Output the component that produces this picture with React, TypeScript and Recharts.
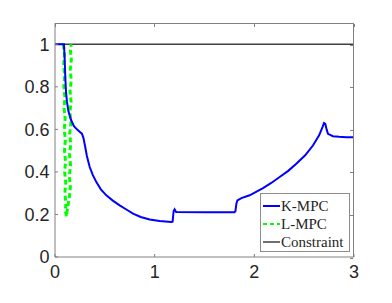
import React from "react";
import {
  LineChart,
  Line,
  XAxis,
  YAxis,
  Legend,
} from "recharts";

// K-MPC trajectory (time, value)
const kmpcT = [
  0, 0.09, 0.097, 0.103, 0.11, 0.12, 0.135, 0.16, 0.19, 0.22, 0.25, 0.27,
  0.285, 0.3, 0.32, 0.348, 0.38, 0.415, 0.46, 0.515, 0.58, 0.649, 0.72,
  0.783, 0.86, 0.95, 1.05, 1.168, 1.18, 1.19, 1.2, 1.215, 1.5, 1.8, 1.81,
  1.82, 1.83, 1.87, 1.953, 2.087, 2.17, 2.254, 2.34, 2.421, 2.51, 2.588,
  2.65, 2.685, 2.699, 2.712, 2.725, 2.739, 2.789, 2.85, 2.923, 3.0,
];
const kmpcV = [
  1.0, 1.0, 0.93, 0.85, 0.78, 0.73, 0.685, 0.645, 0.615, 0.6, 0.588, 0.58,
  0.56, 0.525, 0.475, 0.423, 0.385, 0.352, 0.318, 0.29, 0.265, 0.243, 0.222,
  0.204, 0.188, 0.176, 0.169, 0.165, 0.166, 0.215, 0.224, 0.212, 0.21, 0.21,
  0.215, 0.25, 0.266, 0.277, 0.29, 0.324, 0.348, 0.376, 0.405, 0.438, 0.478,
  0.524, 0.572, 0.612, 0.63, 0.626, 0.6, 0.579, 0.568, 0.565, 0.563, 0.563,
];

// L-MPC chattering trajectory (time, value)
const lmpcT = [
  0.084, 0.095, 0.087, 0.098, 0.089, 0.1, 0.091, 0.102, 0.093, 0.104, 0.095,
  0.106, 0.097, 0.108, 0.099, 0.11, 0.102, 0.111, 0.113, 0.147, 0.154, 0.144,
  0.156, 0.146, 0.158, 0.148, 0.16, 0.15, 0.161, 0.151, 0.163, 0.153,
  0.164, 0.155, 0.162,
];
const lmpcV = [
  1.0, 0.95, 0.9, 0.85, 0.8, 0.75, 0.7, 0.65, 0.6, 0.55, 0.5, 0.45, 0.4,
  0.35, 0.3, 0.25, 0.22, 0.2, 0.19, 0.29, 0.33, 0.38, 0.43, 0.48, 0.53,
  0.58, 0.63, 0.68, 0.73, 0.78, 0.83, 0.88, 0.93, 0.97, 1.0,
];

const constraintT = [0, 3];
const constraintV = [1, 1];

const xDomain: [number, number] = [0, 3];
const yDomain: [number, number] = [0, 1.1];
const xTicks = [0, 1, 2, 3];
const yTicks = [0, 0.2, 0.4, 0.6, 0.8, 1];

const toPoints = (ts: number[], vs: number[]) =>
  ts.map((t, i) => ({ t, v: vs[i] }));

const kmpcData = toPoints(kmpcT, kmpcV);
const lmpcData = toPoints(lmpcT, lmpcV);
const constraintData = toPoints(constraintT, constraintV);

const legendItems = [
  { name: "K-MPC", color: "#0000ff", width: 2, dash: undefined },
  { name: "L-MPC", color: "#00ff00", width: 2, dash: "4 3" },
  { name: "Constraint", color: "#404040", width: 1.5, dash: undefined },
];

const W = 392;
const H = 303;
const margin = { top: 23, right: 38, bottom: 16, left: 5 };
const yAxisWidth = 50;
const xAxisHeight = 30;
const plotLeft = margin.left + yAxisWidth;
const plotTop = margin.top;
const plotW = W - plotLeft - margin.right;
const plotH = H - margin.top - margin.bottom - xAxisHeight;

const axisColor = "#808080";
const tickFont = {
  fill: "#262626",
  fontSize: 18,
  fontFamily: '"Liberation Sans", Arial, sans-serif',
};

const renderLegend = () => (
  <div
    style={{
      width: 90,
      height: 59,
      boxSizing: "border-box",
      border: "1px solid #8c8c8c",
      background: "#fff",
      fontFamily: '"Liberation Serif", serif',
      fontSize: 15,
      color: "#262626",
      paddingTop: 3,
      paddingLeft: 2,
    }}
  >
    {legendItems.map((item) => (
      <div
        key={item.name}
        style={{ display: "flex", alignItems: "center", height: 18 }}
      >
        <svg width={17} height={6} style={{ display: "block" }}>
          <line
            x1={0}
            y1={3}
            x2={17}
            y2={3}
            stroke={item.color}
            strokeWidth={item.width}
            strokeDasharray={item.dash}
          />
        </svg>
        <span style={{ marginLeft: 1, lineHeight: "18px" }}>{item.name}</span>
      </div>
    ))}
  </div>
);

// top and right edges of the box, drawn as plain bordered divs
const boxStyle: React.CSSProperties = {
  position: "absolute",
  left: plotLeft,
  top: plotTop,
  width: plotW,
  height: plotH,
  boxSizing: "border-box",
  borderTop: `1px solid ${axisColor}`,
  borderRight: `1px solid ${axisColor}`,
  pointerEvents: "none",
  zIndex: 5,
};

export default function App() {
  const tickPx = (t: number) =>
    ((t - xDomain[0]) / (xDomain[1] - xDomain[0])) * plotW;
  const tickPy = (v: number) =>
    plotH - ((v - yDomain[0]) / (yDomain[1] - yDomain[0])) * plotH;
  return (
    <div style={{ position: "absolute", left: 0, top: 0, width: W, height: H }}>
      <LineChart width={W} height={H} margin={margin}>
        <XAxis
          dataKey="t"
          type="number"
          domain={xDomain}
          ticks={xTicks}
          interval={0}
          allowDataOverflow
          height={xAxisHeight}
          tickSize={-3}
          tickMargin={11}
          axisLine={{ stroke: axisColor }}
          tickLine={{ stroke: axisColor }}
          tick={tickFont}
        />
        <YAxis
          type="number"
          domain={yDomain}
          ticks={yTicks}
          interval={0}
          allowDataOverflow
          width={yAxisWidth}
          tickSize={-3}
          tickMargin={8.5}
          axisLine={{ stroke: axisColor }}
          tickLine={{ stroke: axisColor }}
          tick={tickFont}
        />
        <Legend
          layout="horizontal"
          verticalAlign="middle"
          align="center"
          content={renderLegend}
          wrapperStyle={{ left: 260, top: 193, width: 90 }}
        />
        <Line
          data={constraintData}
          dataKey="v"
          name="Constraint"
          stroke="#404040"
          strokeWidth={1.4}
          dot={false}
          isAnimationActive={false}
        />
        <Line
          data={lmpcData}
          dataKey="v"
          name="L-MPC"
          stroke="#00ff00"
          strokeWidth={3}
          strokeDasharray="5 3"
          dot={false}
          isAnimationActive={false}
        />
        <Line
          data={kmpcData}
          dataKey="v"
          name="K-MPC"
          stroke="#0000ff"
          strokeWidth={2}
          dot={false}
          isAnimationActive={false}
        />
      </LineChart>
      <div style={boxStyle}>
        {xTicks.map((t) => (
          <div
            key={`t${t}`}
            style={{
              position: "absolute",
              left: tickPx(t) - 0.5,
              top: 0,
              width: 1,
              height: 3,
              background: axisColor,
            }}
          />
        ))}
        {yTicks.map((v) => (
          <div
            key={`r${v}`}
            style={{
              position: "absolute",
              right: 0,
              top: tickPy(v) - 0.5,
              width: 3,
              height: 1,
              background: axisColor,
            }}
          />
        ))}
      </div>
    </div>
  );
}
